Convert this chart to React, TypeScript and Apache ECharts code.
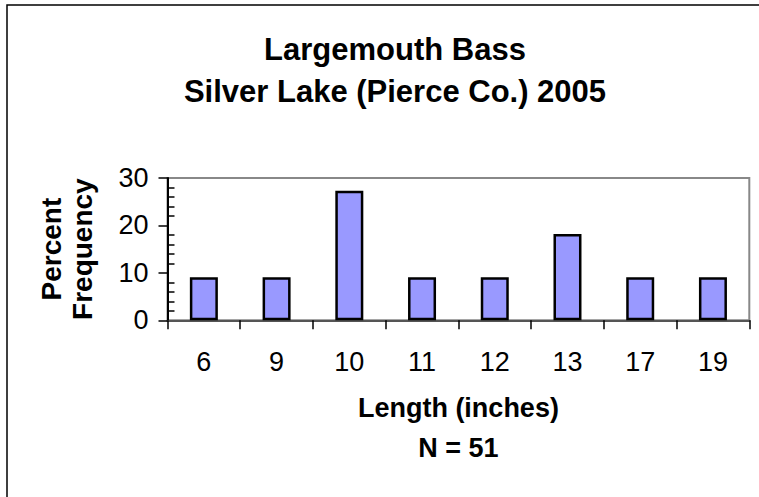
import React, { useEffect, useRef } from "react";
import * as echarts from "echarts";

const categories = ["6", "9", "10", "11", "12", "13", "17", "19"];
const percentValues = [9.1, 9.1, 27.3, 9.1, 9.1, 18.2, 9.1, 9.1];
const titleLines = ["Largemouth Bass", "Silver Lake (Pierce Co.) 2005"];
const yAxisTitle = "Percent\nFrequency";
const xAxisTitle = "Length (inches)\nN = 51";
const yMin = 0;
const yMax = 30;
const yStep = 10;

export default function App() {
  const ref = useRef<HTMLDivElement>(null);
  useEffect(() => {
    if (!ref.current) return;
    const chart = echarts.init(ref.current, null, { renderer: "svg" });
    const font = "'Liberation Sans', Arial, sans-serif";
    chart.setOption({
      animation: false,
      backgroundColor: "#ffffff",
      title: {
        text: titleLines.join("\n"),
        left: 390,
        top: 23,
        textAlign: "center",
        textStyle: {
          fontFamily: font,
          fontWeight: "bold",
          fontSize: 31,
          lineHeight: 42,
          color: "#000",
        },
      },
      graphic: [
        {
          type: "rect",
          shape: { x: 7, y: 5, width: 900, height: 900 },
          style: { fill: "none", stroke: "#000", lineWidth: 1.5 },
          silent: true,
        },
      ],
      grid: {
        left: 167.5,
        top: 178,
        right: 9.7,
        bottom: 176.7,
        show: true,
        borderColor: "#888888",
        borderWidth: 2,
        backgroundColor: "transparent",
      },
      xAxis: {
        type: "category",
        data: categories,
        boundaryGap: true,
        name: xAxisTitle,
        nameLocation: "middle",
        nameGap: 68,
        nameTextStyle: {
          fontFamily: font,
          fontWeight: "bold",
          fontSize: 27,
          lineHeight: 40,
          color: "#000",
        },
        axisLine: { show: true, lineStyle: { color: "#555", width: 2 } },
        axisTick: {
          show: true,
          alignWithLabel: false,
          length: 9,
          lineStyle: { color: "#000", width: 1.5 },
        },
        axisLabel: {
          fontFamily: font,
          fontSize: 27,
          color: "#000",
          margin: 28,
        },
        splitLine: { show: false },
      },
      yAxis: [
        {
          type: "value",
          min: yMin,
          max: yMax,
          interval: yStep,
          name: yAxisTitle,
          nameLocation: "middle",
          nameGap: 70,
          nameRotate: 90,
          nameTextStyle: {
            fontFamily: font,
            fontWeight: "bold",
            fontSize: 28,
            lineHeight: 31,
            color: "#000",
          },
          axisLine: { show: true, lineStyle: { color: "#000", width: 2 } },
          axisTick: { show: true, length: 9, lineStyle: { color: "#000", width: 1.5 } },
          axisLabel: { fontFamily: font, fontSize: 27, color: "#000", margin: 19 },
          splitLine: { show: false },
        },
        {
          type: "value",
          min: yMin,
          max: yMax,
          interval: yStep,
          position: "left",
          axisLine: { show: false },
          axisTick: { show: false, inside: true },
          axisLabel: { show: false },
          splitLine: { show: false },
          minorTick: {
            show: true,
            splitNumber: 5,
            length: 7,
            lineStyle: { color: "#000", width: 1.5 },
          },
          minorSplitLine: { show: false },
        },
      ],
      series: [
        {
          type: "bar",
          data: percentValues,
          yAxisIndex: 0,
          barWidth: 28,
          itemStyle: { color: "#9999FF", borderColor: "#000", borderWidth: 2.5 },
        },
      ],
    });
    return () => chart.dispose();
  }, []);
  return (
    <div
      ref={ref}
      style={{ position: "fixed", left: 0, top: 0, width: 759, height: 497 }}
    />
  );
}
